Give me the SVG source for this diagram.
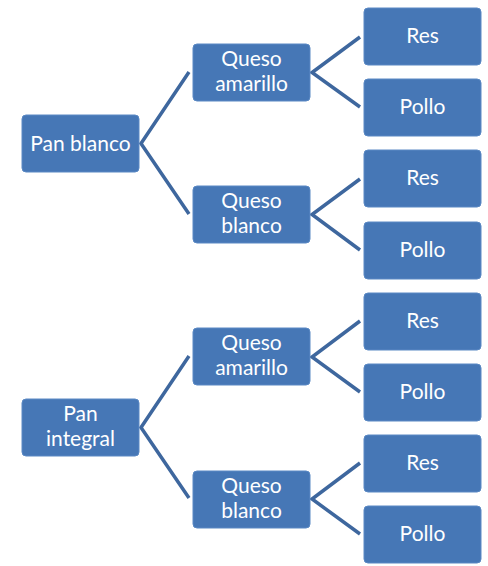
<svg xmlns="http://www.w3.org/2000/svg" width="488" height="566" viewBox="0 0 488 566">
<style>
.n{fill:#4677b6;stroke:#5a89c4;stroke-width:1}
.t{fill:#ffffff;font-family:Lato,"Open Sans","Liberation Sans",sans-serif;font-size:21px;text-anchor:middle}
.c{fill:none;stroke:#3e679e;stroke-width:3.5;stroke-linejoin:miter}
</style>
<rect width="488" height="566" fill="#ffffff"/>
<g id="connectors">
<polyline class="c" points="189,72 141,143.5 189,214"/>
<polyline class="c" points="189,356 141,427.5 189,498"/>
<polyline class="c" points="360,37 312,72.5 360,107"/>
<polyline class="c" points="360,179 312,214.5 360,250"/>
<polyline class="c" points="360,321 312,357 360,392"/>
<polyline class="c" points="360,463 312,499 360,534"/>
</g>
<g id="pan-blanco"><rect class="n" x="22" y="115" width="117" height="57" rx="4"/><text class="t" x="80.5" y="151">Pan blanco</text></g>
<g id="pan-integral"><rect class="n" x="22" y="399" width="117" height="57" rx="4"/><text class="t" x="80.5" y="421">Pan</text><text class="t" x="80.5" y="446">integral</text></g>
<g id="queso-amarillo-1"><rect class="n" x="193" y="44" width="117" height="57" rx="4"/><text class="t" x="251.5" y="66">Queso</text><text class="t" x="251.5" y="91">amarillo</text></g>
<g id="queso-blanco-1"><rect class="n" x="193" y="186" width="117" height="57" rx="4"/><text class="t" x="251.5" y="208">Queso</text><text class="t" x="251.5" y="233">blanco</text></g>
<g id="queso-amarillo-2"><rect class="n" x="193" y="328" width="117" height="57" rx="4"/><text class="t" x="251.5" y="350">Queso</text><text class="t" x="251.5" y="375">amarillo</text></g>
<g id="queso-blanco-2"><rect class="n" x="193" y="471" width="117" height="57" rx="4"/><text class="t" x="251.5" y="493">Queso</text><text class="t" x="251.5" y="518">blanco</text></g>
<g id="res-1"><rect class="n" x="364" y="8" width="117" height="57" rx="4"/><text class="t" x="422.5" y="43">Res</text></g>
<g id="pollo-1"><rect class="n" x="364" y="79" width="117" height="57" rx="4"/><text class="t" x="422.5" y="114">Pollo</text></g>
<g id="res-2"><rect class="n" x="364" y="150" width="117" height="57" rx="4"/><text class="t" x="422.5" y="185">Res</text></g>
<g id="pollo-2"><rect class="n" x="364" y="222" width="117" height="57" rx="4"/><text class="t" x="422.5" y="257">Pollo</text></g>
<g id="res-3"><rect class="n" x="364" y="293" width="117" height="57" rx="4"/><text class="t" x="422.5" y="328">Res</text></g>
<g id="pollo-3"><rect class="n" x="364" y="364" width="117" height="57" rx="4"/><text class="t" x="422.5" y="399">Pollo</text></g>
<g id="res-4"><rect class="n" x="364" y="435" width="117" height="57" rx="4"/><text class="t" x="422.5" y="470">Res</text></g>
<g id="pollo-4"><rect class="n" x="364" y="506" width="117" height="57" rx="4"/><text class="t" x="422.5" y="541">Pollo</text></g>
</svg>
